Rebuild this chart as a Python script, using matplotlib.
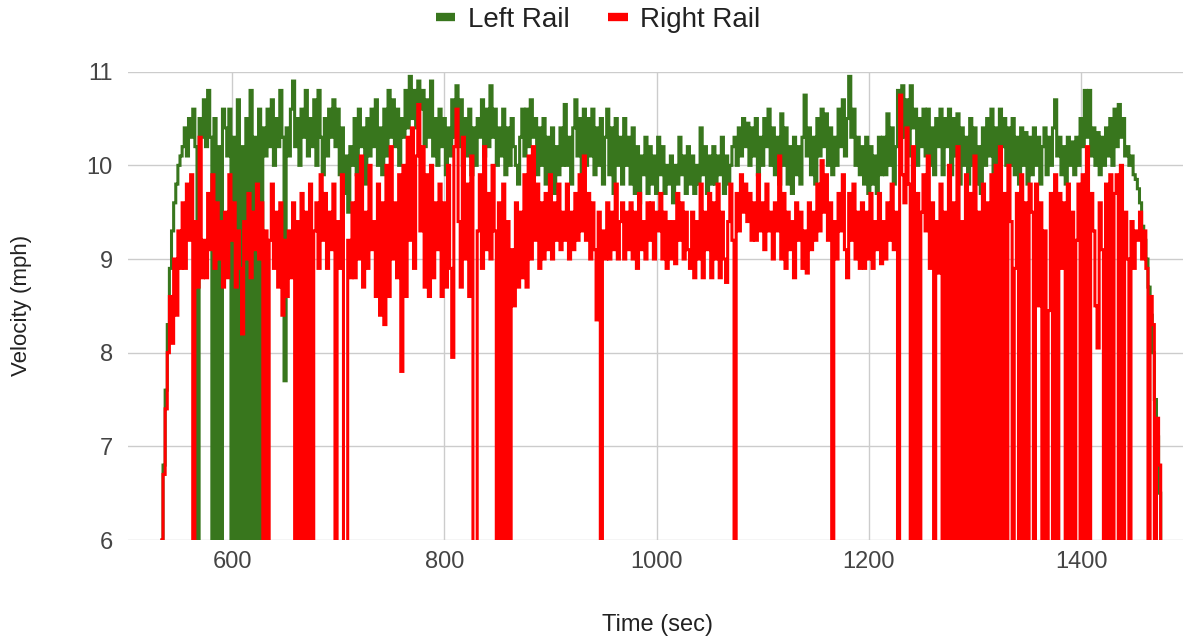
import matplotlib
matplotlib.use("Agg")
import matplotlib.pyplot as plt
from matplotlib.lines import Line2D
import numpy as np

# ---------------- data ----------------
t_start = 534          # first sample time (sec)
t_step = 2             # sample spacing (sec)

left_rail = [
    # 534
    6.0, 6.8, 7.6, 8.3, 8.9, 9.3, 9.6, 9.8, 10.0, 10.1,
    # 554
    10.2, 10.4, 10.1, 10.5, 10.3, 10.6, 10.2, 0, 10.5, 10.3,
    # 574
    10.7, 10.2, 10.8, 10.3, 0, 10.5, 0, 10.2, 0, 10.6,
    # 594
    10.4, 10.1, 10.6, 0, 10.3, 0, 10.7, 0, 10.2, 0,
    # 614
    10.5, 0, 10.8, 0, 10.3, 0, 10.6, 0, 10.4, 10.1,
    # 634
    10.6, 10.2, 10.7, 10.0, 10.5, 10.2, 10.8, 10.3, 7.7, 10.4,
    # 654
    10.1, 10.6, 10.9, 10.2, 10.5, 10.0, 10.6, 10.3, 10.8, 10.1,
    # 674
    10.5, 10.2, 10.7, 10.0, 10.8, 10.3, 9.9, 10.5, 10.1, 10.6,
    # 694
    10.3, 10.7, 10.2, 10.6, 9.9, 10.4, 9.7, 10.1, 9.5, 10.2,
    # 714
    10.0, 10.5, 9.9, 10.6, 10.2, 10.4, 9.8, 10.5, 10.1, 10.6,
    # 734
    10.2, 10.7, 10.0, 10.4, 9.9, 10.6, 10.1, 10.8, 10.3, 10.7,
    # 754
    10.2, 10.6, 10.0, 10.5, 10.3, 10.8, 10.4, 10.95, 10.5, 10.8,
    # 774
    10.4, 10.9, 10.6, 10.8, 10.2, 10.7, 10.3, 10.9, 10.1, 10.5,
    # 794
    10.0, 10.6, 10.2, 10.5, 9.9, 10.4, 10.1, 10.7, 10.3, 10.85,
    # 814
    10.2, 10.7, 10.0, 10.5, 10.1, 10.6, 9.9, 10.4, 10.0, 10.5,
    # 834
    10.3, 10.7, 10.1, 10.6, 10.2, 10.85, 10.3, 10.6, 10.0, 10.4,
    # 854
    10.1, 10.6, 9.9, 10.4, 10.0, 10.5, 10.2, 10.0, 9.8, 10.3,
    # 874
    10.6, 10.1, 10.6, 10.2, 10.7, 10.3, 10.5, 9.9, 10.4, 10.0,
    # 894
    10.5, 9.8, 10.3, 9.9, 10.4, 9.7, 10.2, 9.9, 10.4, 10.0,
    # 914
    10.65, 10.0, 10.3, 9.8, 10.4, 10.7, 10.1, 10.5, 9.9, 10.6,
    # 934
    10.0, 10.5, 10.1, 10.6, 9.9, 10.4, 10.0, 10.5, 9.8, 10.3,
    # 954
    10.6, 9.9, 10.4, 9.7, 10.5, 10.0, 10.3, 9.8, 10.5, 10.0,
    # 974
    10.3, 9.8, 10.4, 9.7, 10.2, 9.6, 10.1, 9.9, 10.3, 9.7,
    # 994
    10.2, 9.8, 10.1, 9.7, 10.3, 9.9, 10.2, 9.7, 10.0, 9.8,
    # 1014
    10.1, 9.6, 10.0, 9.8, 10.3, 9.9, 10.1, 9.7, 10.2, 9.8,
    # 1034
    10.1, 9.7, 10.0, 9.8, 10.4, 9.9, 10.2, 9.7, 10.1, 9.8,
    # 1054
    10.2, 9.8, 10.1, 9.9, 10.3, 9.7, 10.1, 9.8, 10.0, 10.2,
    # 1074
    10.3, 10.0, 10.4, 10.1, 10.5, 10.2, 10.45, 10.0, 10.4, 10.1,
    # 1094
    10.5, 9.9, 10.3, 10.0, 10.5, 10.2, 10.6, 10.0, 10.4, 9.9,
    # 1114
    10.3, 9.8, 10.55, 10.0, 10.4, 9.8, 10.2, 9.7, 10.3, 9.9,
    # 1134
    10.2, 9.8, 10.3, 10.75, 10.1, 10.4, 9.9, 10.3, 9.8, 10.5,
    # 1154
    10.1, 10.6, 10.2, 10.55, 10.0, 10.4, 9.9, 10.3, 10.0, 10.6,
    # 1174
    10.2, 10.7, 10.1, 10.5, 10.95, 10.3, 10.6, 10.0, 10.3, 9.9,
    # 1194
    10.2, 9.8, 10.3, 9.7, 10.2, 9.8, 10.1, 9.7, 10.3, 9.9,
    # 1214
    10.3, 9.9, 10.55, 10.0, 10.4, 9.8, 10.2, 10.8, 10.3, 10.85,
    # 1234
    10.3, 10.7, 10.1, 10.85, 10.4, 10.6, 10.0, 10.5, 10.2, 10.6,
    # 1254
    10.1, 10.6, 10.0, 10.4, 9.9, 10.5, 10.2, 10.6, 9.9, 10.5,
    # 1274
    10.2, 10.6, 9.9, 10.5, 10.1, 10.55, 9.8, 10.4, 10.0, 10.3,
    # 1294
    9.8, 10.5, 10.0, 10.4, 9.8, 10.2, 9.7, 10.4, 10.0, 10.5,
    # 1314
    10.1, 10.6, 9.9, 10.4, 10.0, 10.6, 10.2, 10.5, 10.0, 10.4,
    # 1334
    10.0, 10.5, 9.9, 10.3, 9.8, 10.4, 10.0, 10.35, 9.8, 10.3,
    # 1354
    9.9, 10.4, 10.0, 10.3, 9.8, 10.2, 10.4, 9.9, 10.3, 10.0,
    # 1374
    10.4, 10.7, 10.1, 10.3, 9.9, 10.2, 9.8, 10.3, 10.0, 10.25,
    # 1394
    9.9, 10.3, 10.0, 10.5, 10.2, 10.8, 10.3, 10.8, 10.1, 10.4,
    # 1414
    10.0, 10.35, 9.9, 10.3, 10.0, 10.4, 10.1, 10.5, 10.0, 10.6,
    # 1434
    10.2, 10.65, 10.3, 10.5, 10.1, 10.2, 10.0, 10.1, 9.9, 9.85,
    # 1454
    9.75, 9.6, 9.35, 9.2, 9.0, 8.7, 8.4, 8.0, 7.5, 7.1,
    # 1474
    6.5, 5.9, 5.0,
]

right_rail = [
    # 534
    6.0, 6.7, 7.4, 8.0, 8.6, 8.1, 9.0, 8.4, 9.3, 8.9,
    # 554
    9.6, 8.9, 9.8, 9.2, 9.9, 0, 9.4, 8.7, 10.3, 8.8,
    # 574
    9.2, 8.8, 9.7, 9.1, 9.9, 8.9, 9.6, 9.0, 9.4, 8.7,
    # 594
    9.5, 8.8, 9.9, 9.2, 9.6, 8.7, 9.3, 8.9, 8.2, 9.4,
    # 614
    9.0, 9.7, 8.8, 9.5, 9.1, 9.8, 9.0, 9.6, 0, 9.3,
    # 634
    0, 9.2, 9.8, 8.9, 9.5, 8.7, 9.6, 8.4, 9.2, 8.6,
    # 654
    9.3, 8.8, 9.6, 0, 9.4, 0, 9.7, 0, 9.5, 0,
    # 674
    9.8, 0, 9.3, 9.6, 8.9, 9.9, 9.2, 9.7, 8.9, 9.5,
    # 694
    9.1, 9.8, 0, 9.4, 8.9, 9.9, 0, 0, 9.2, 8.8,
    # 714
    9.6, 8.8, 9.9, 9.0, 10.1, 8.7, 9.5, 8.9, 10.0, 9.1,
    # 734
    9.4, 8.6, 9.8, 8.4, 9.6, 8.3, 10.0, 8.6, 10.2, 9.0,
    # 754
    9.6, 8.8, 9.9, 7.8, 10.0, 8.6, 10.3, 9.2, 10.4, 8.9,
    # 774
    10.1, 10.65, 9.3, 10.2, 8.7, 9.9, 8.6, 10.0, 8.8, 9.6,
    # 794
    9.1, 9.8, 8.6, 9.6, 8.7, 10.0, 8.9, 7.95, 10.2, 10.6,
    # 814
    9.4, 8.7, 10.3, 9.0, 9.8, 8.6, 10.1, 0, 0, 9.3,
    # 834
    9.9, 8.9, 10.2, 9.1, 9.7, 9.0, 10.0, 9.3, 0, 9.6,
    # 854
    0, 9.8, 0, 9.4, 0, 9.1, 8.5, 9.6, 8.7, 9.5,
    # 874
    8.8, 9.9, 8.7, 10.1, 9.0, 10.2, 9.2, 9.8, 8.9, 9.6,
    # 894
    9.0, 9.7, 9.1, 9.9, 9.0, 9.6, 9.2, 9.8, 9.1, 9.5,
    # 914
    9.2, 9.8, 9.0, 9.5, 9.1, 9.7, 9.2, 9.9, 9.3, 10.1,
    # 934
    9.2, 9.7, 9.0, 9.6, 9.1, 8.35, 9.5, 0, 9.3, 9.0,
    # 954
    9.6, 9.0, 9.5, 9.1, 9.8, 9.0, 9.4, 9.6, 9.0, 9.5,
    # 974
    9.1, 9.6, 9.0, 9.5, 8.9, 9.7, 9.1, 9.4, 9.0, 9.6,
    # 994
    9.2, 9.6, 9.0, 9.5, 9.3, 9.7, 9.0, 9.5, 8.9, 9.4,
    # 1014
    9.0, 9.4, 8.95, 9.7, 9.2, 9.6, 9.0, 9.5, 9.1, 8.9,
    # 1034
    9.5, 8.8, 9.4, 9.0, 9.8, 8.8, 9.5, 9.1, 9.7, 8.8,
    # 1054
    9.6, 9.0, 9.8, 8.8, 9.5, 9.0, 8.75, 9.4, 9.8, 9.2,
    # 1074
    0, 9.7, 9.3, 9.9, 9.5, 9.8, 9.4, 9.7, 9.2, 9.6,
    # 1094
    9.2, 9.9, 9.3, 9.6, 9.1, 9.8, 9.3, 9.5, 9.0, 9.6,
    # 1114
    9.3, 10.1, 9.0, 9.7, 8.9, 9.5, 9.1, 9.4, 8.8, 9.6,
    # 1134
    9.2, 9.5, 8.9, 9.3, 8.85, 9.6, 9.1, 9.5, 9.2, 9.8,
    # 1154
    9.3, 10.05, 9.5, 9.9, 9.2, 9.6, 0, 9.4, 9.0, 9.7,
    # 1174
    9.3, 9.9, 9.1, 8.8, 9.7, 9.2, 9.8, 9.0, 9.5, 8.9,
    # 1194
    9.6, 8.9, 9.5, 9.0, 9.7, 8.9, 9.4, 9.1, 9.7, 8.95,
    # 1214
    9.4, 9.0, 9.6, 9.2, 9.8, 9.1, 9.5, 0, 10.75, 9.9,
    # 1234
    9.6, 10.4, 9.8, 0, 10.2, 0, 9.7, 0, 9.5, 9.9,
    # 1254
    9.3, 10.1, 8.9, 9.6, 0, 9.4, 8.85, 9.8, 0, 9.5,
    # 1274
    0, 10.0, 0, 9.6, 0, 10.2, 0, 9.4, 0, 9.9,
    # 1294
    0, 9.7, 0, 10.1, 0, 9.5, 0, 9.8, 0, 9.6,
    # 1314
    0, 9.9, 0, 10.0, 0, 10.2, 0, 9.7, 0, 10.0,
    # 1334
    9.4, 0, 8.9, 9.7, 0, 9.9, 0, 9.6, 0, 9.8,
    # 1354
    9.5, 0, 9.8, 8.5, 9.6, 0, 9.3, 0, 8.45, 9.7,
    # 1374
    0, 9.9, 0, 9.7, 8.9, 9.6, 0, 9.8, 0, 9.5,
    # 1394
    0, 9.2, 9.8, 0, 9.9, 0, 10.2, 0, 9.7, 9.3,
    # 1414
    8.5, 8.05, 9.6, 9.1, 0, 9.8, 0, 9.9, 0, 9.7,
    # 1434
    9.9, 0, 10.0, 0, 9.5, 9.0, 0, 9.4, 8.9, 9.3,
    # 1454
    9.2, 9.5, 9.0, 9.3, 8.9, 0, 8.6, 8.3, 0, 7.3,
    # 1474
    6.8, 0, 0,
]

series_names = ["Left Rail", "Right Rail"]
x_ticks = [600, 800, 1000, 1200, 1400]
y_ticks = [6, 7, 8, 9, 10, 11]
x_title = "Time (sec)"
y_title = "Velocity (mph)"

GREEN = "#38761d"
RED = "#ff0000"
GRID = "#cccccc"
TEXT = "#444444"

# ---------------- figure ----------------
plt.rcParams["font.family"] = ["Liberation Sans", "DejaVu Sans"]

W, H = 1183, 643
fig = plt.figure(figsize=(W / 100, H / 100), dpi=100)
left_px, right_px, top_px, bot_px = 128, 1183, 71.7, 540
ax = fig.add_axes([left_px / W, 1 - bot_px / H,
                   (right_px - left_px) / W, (bot_px - top_px) / H])

time = t_start + t_step * np.arange(len(left_rail))

ax.plot(time, left_rail, color=GREEN, lw=2.2, zorder=3,
        drawstyle="steps-mid", snap=False, solid_joinstyle="miter")
ax.plot(time, right_rail, color=RED, lw=2.2, zorder=4,
        drawstyle="steps-mid", snap=False, solid_joinstyle="miter")

ax.set_xlim(502, 1496)
ax.set_ylim(6, 11)
ax.set_xticks(x_ticks)
ax.set_yticks(y_ticks)
ax.grid(True, color=GRID, lw=1.0)
ax.set_axisbelow(True)
for s in ax.spines.values():
    s.set_visible(False)
ax.tick_params(axis="both", length=0, labelsize=17, labelcolor=TEXT)
ax.tick_params(axis="y", pad=11)
ax.tick_params(axis="x", pad=8)

fig.text(657 / W, 1 - 625 / H, x_title, ha="center", va="center",
         fontsize=17, color="#222222")
fig.text(22 / W, 1 - 305 / H, y_title, ha="center", va="center",
         rotation=90, fontsize=16, color="#222222")

handles = [Line2D([], [], color=GREEN, lw=6, solid_capstyle="butt"),
           Line2D([], [], color=RED, lw=6, solid_capstyle="butt")]
fig.legend(handles, series_names, loc="center",
           bbox_to_anchor=(598 / W, 1 - 20 / H), ncol=2, frameon=False,
           fontsize=20, handlelength=0.7, handletextpad=0.45,
           columnspacing=1.4, labelcolor="#222222")

fig.savefig("out.png", dpi=100)
